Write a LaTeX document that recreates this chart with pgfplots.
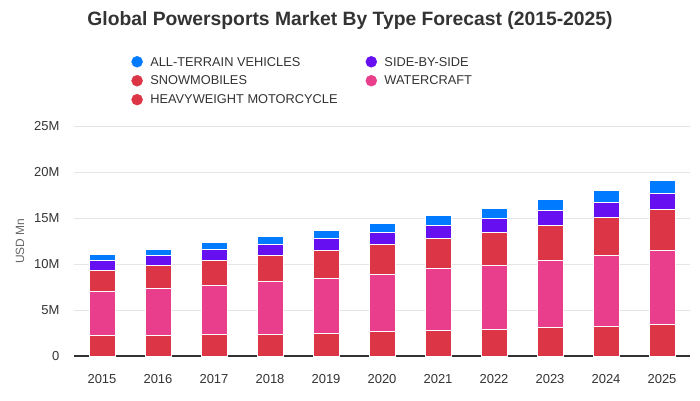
\documentclass[border=0pt]{standalone}
\usepackage{pgfplots}
\pgfplotsset{compat=1.18}
\usepackage{pgfplotstable}
\usepackage{fontspec}
\setmainfont{Liberation Sans}
\definecolor{atv}{HTML}{007BFF}
\definecolor{sxs}{HTML}{6610F2}
\definecolor{snow}{HTML}{DC3545}
\definecolor{water}{HTML}{E83E8C}
\definecolor{heavy}{HTML}{DC3545}
\definecolor{txt}{HTML}{333333}
\pgfplotstableread{
x hw wc sn sxs atv
0 2.25 4.78 2.28 1.09 0.58
1 2.25 5.11 2.50 1.09 0.68
2 2.36 5.32 2.72 1.15 0.77
3 2.36 5.76 2.83 1.15 0.90
4 2.47 5.98 3.04 1.30 0.83
5 2.68 6.20 3.26 1.31 0.93
6 2.79 6.67 3.33 1.41 1.05
7 2.90 6.96 3.59 1.52 1.04
8 3.12 7.28 3.80 1.64 1.15
9 3.23 7.72 4.13 1.63 1.26
10 3.45 8.04 4.46 1.73 1.37
}\data
\pgfplotsset{
  dotleg/.style={legend image code/.code={\fill[#1] (0pt,0.5pt) circle (5.5pt); \path (11pt,0pt);}},
}
\begin{document}
\begin{tikzpicture}[x=1pt,y=1pt]
\useasboundingbox (0,0) rectangle (700,400);
\node[font=\fontsize{19.3}{22}\selectfont\bfseries, text=txt] at (350,379.5) {Global Powersports Market By Type Forecast (2015-2025)};
\begin{axis}[
  at={(74pt,44pt)}, anchor=south west,
  scale only axis, width=616pt, height=230pt,
  ybar stacked, bar width=26pt,
  xmin=-0.5, xmax=10.5, ymin=0, ymax=25,
  xtick={0,...,10},
  xticklabels={2015,2016,2017,2018,2019,2020,2021,2022,2023,2024,2025},
  ytick={0,5,10,15,20,25},
  yticklabels={0,5M,10M,15M,20M,25M},
  major tick length=0pt,
  axis x line*=bottom, axis y line*=left,
  x axis line style={draw=none},
  y axis line style={draw=none},
  ymajorgrids, grid style={draw=black!10, line width=0.8pt},
  tick label style={font=\fontsize{13}{15}\selectfont, text=txt},
  /pgf/number format/assume math mode=true,
  xticklabel style={yshift=-15pt},
  yticklabel style={xshift=-11pt},
  ylabel={USD Mn}, ylabel style={font=\fontsize{12}{14}\selectfont, text=black!60, yshift=3pt},
  legend columns=2,
  legend style={at={(0.088,1.318)}, anchor=north west, draw=none, fill=none,
    font=\fontsize{12.8}{15}\selectfont, text=txt,
    row sep=4.5pt, /tikz/every even column/.append style={column sep=26pt}},
  legend cell align=left,
]
\addlegendimage{dotleg=atv}
\addlegendentry{ALL-TERRAIN VEHICLES}
\addlegendimage{dotleg=sxs}
\addlegendentry{SIDE-BY-SIDE}
\addlegendimage{dotleg=snow}
\addlegendentry{SNOWMOBILES}
\addlegendimage{dotleg=water}
\addlegendentry{WATERCRAFT}
\addlegendimage{dotleg=heavy}
\addlegendentry{HEAVYWEIGHT MOTORCYCLE}
\addplot[forget plot, fill=heavy, draw=white, line width=1pt] table[x=x,y=hw]{\data};
\addplot[forget plot, fill=water, draw=white, line width=1pt] table[x=x,y=wc]{\data};
\addplot[forget plot, fill=snow, draw=white, line width=1pt] table[x=x,y=sn]{\data};
\addplot[forget plot, fill=sxs, draw=white, line width=1pt] table[x=x,y=sxs]{\data};
\addplot[forget plot, fill=atv, draw=white, line width=1pt] table[x=x,y=atv]{\data};
\draw[txt, line width=1.5pt] (rel axis cs:0,0) -- (rel axis cs:1,0);
\end{axis}
\end{tikzpicture}
\end{document}
